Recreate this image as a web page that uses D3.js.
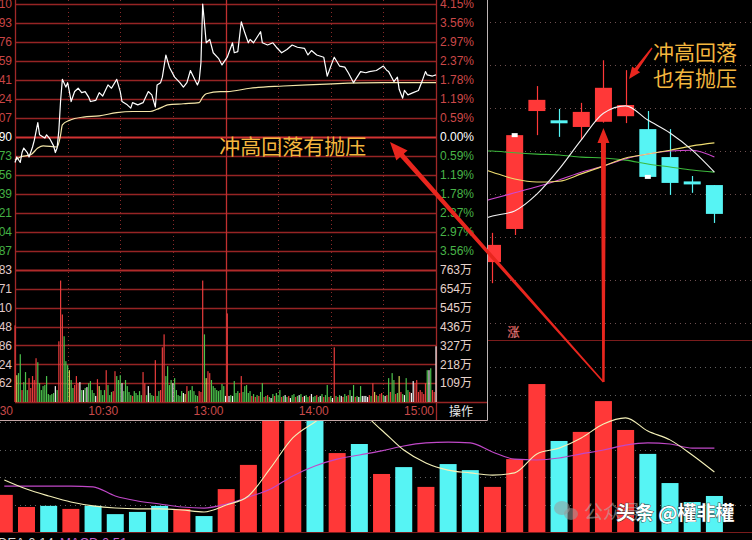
<!DOCTYPE html>
<html><head><meta charset="utf-8">
<script src="https://cdn.jsdelivr.net/npm/d3@7"></script>
<style>html,body{margin:0;padding:0;background:#000;overflow:hidden}svg{display:block}</style>
</head><body>
<script>
// ================= DATA =================
const prevClose = 28.90;
const priceMax = 30.10, priceMin = 27.70;
const priceAxisLabels = ["30.10","29.93","29.76","29.59","29.41","29.24","29.07","28.90","28.73","28.56","28.39","28.21","28.04","27.87"];
const pctAxisLabels = ["4.15%","3.56%","2.97%","2.37%","1.78%","1.19%","0.59%","0.00%","0.59%","1.19%","1.78%","2.37%","2.97%","3.56%"];
const volAxisValues = [763,654,545,436,327,218,109];
const volAxisLabels = ["763万","654万","545万","436万","327万","218万","109万"];
const volLotLabels = ["76283","65171","54310","43448","32586","21724","10862"];
const timeLabels = ["9:30","10:30","13:00","14:00","15:00"];
const timeLabelMinutes = [0,60,120,180,240];
const dottedMinutes = [30,60,90,150,180,210];
const solidMinutes = [0,120,240];

const priceMinutes = [0,1,3,4,5,7,8,10,11,13,14,16,17,18,20,22,23,24,25,26,27,29,30,31,32,34,36,38,40,42,43,46,48,50,53,55,58,60,61,64,66,67,70,73,76,78,80,81,83,84,86,88,91,94,96,98,100,103,104,105,106,107,108,109,111,113,116,118,121,124,125,127,129,131,133,134,136,138,140,141,144,147,149,152,155,158,161,165,167,169,172,176,178,181,182,185,188,190,193,197,200,202,206,210,212,213,216,218,219,221,222,224,227,230,232,234,235,238,240];
const priceValues = [28.67,28.72,28.67,28.76,28.80,28.76,28.72,28.81,28.87,29.03,28.92,28.90,28.89,28.92,28.88,28.82,28.76,28.80,28.96,29.23,29.42,29.35,29.39,29.31,29.22,29.31,29.34,29.30,29.31,29.26,29.22,29.23,29.30,29.27,29.37,29.34,29.42,29.31,29.22,29.19,29.16,29.21,29.19,29.21,29.31,29.28,29.17,29.37,29.39,29.44,29.64,29.53,29.44,29.39,29.35,29.39,29.50,29.40,29.37,29.41,29.57,30.10,29.93,29.75,29.78,29.66,29.61,29.55,29.62,29.75,29.66,29.67,29.94,29.84,29.75,29.78,29.75,29.80,29.85,29.75,29.73,29.75,29.71,29.66,29.69,29.73,29.71,29.70,29.64,29.68,29.64,29.62,29.45,29.58,29.62,29.54,29.53,29.48,29.39,29.49,29.48,29.49,29.50,29.54,29.50,29.49,29.40,29.44,29.33,29.25,29.32,29.28,29.30,29.32,29.40,29.49,29.46,29.45,29.46];
const avgMinutes = [0,3,9,13,16,24,26,27,31,39,48,58,67,77,81,84,87,96,105,107,109,117,121,134,153,181,210,240];
const avgValues = [28.69,28.72,28.74,28.80,28.82,28.81,28.92,29.01,29.05,29.08,29.09,29.12,29.13,29.13,29.15,29.17,29.19,29.20,29.21,29.26,29.29,29.31,29.31,29.34,29.36,29.38,29.39,29.39];

// per-minute volume (万), 241 minutes
const minuteVolume = [
443,155,167,276,69,115,173,69,138,81,150,127,253,230,109,69,92,98,150,46,
40,46,52,92,69,351,702,506,380,236,213,184,127,81,98,150,109,115,69,69,
81,86,109,121,69,52,35,132,92,69,40,69,184,98,40,58,63,178,150,127,
155,109,63,127,92,58,40,35,63,52,40,63,40,173,109,40,92,52,40,35,
242,35,63,69,316,391,150,207,98,127,109,138,69,40,35,63,52,46,92,63,
69,92,63,40,35,63,58,702,391,138,178,167,127,92,81,69,63,69,104,92,35,
512,35,40,35,121,52,63,52,150,58,92,98,52,63,
35,46,29,40,35,58,109,29,35,40,29,23,46,35,52,40,69,29,35,40,
29,35,23,40,46,29,35,40,46,29,35,40,29,35,46,29,35,40,29,35,
46,29,40,98,29,35,23,316,35,29,40,35,29,46,35,40,69,35,98,29,
35,29,92,35,35,35,29,40,35,109,58,40,35,46,52,40,35,40,138,58,
167,127,46,52,150,58,46,40,138,69,58,52,121,109,127,58,69,58,46,109,
184,184,195,69,58,322];
const minuteVolumeColor = ("ryggrgggrr"+"rrrggggggg"+"gggwgrrrgg"+"gyggrrrwgw"+"gwggggwryg"+"ggrgggrrgg"+"gwgggggrgg"+"gggrrgwggg"+"rggrrrgggg"+"wgggggwyrg"+"gggggrrrgy"+"rrgggggggg"+"w"+
 "rwgwgggrrggggg"+
 "rgrgrggrgr"+"gwgrgggrgw"+"grwggrgwgr"+"wggrwggrgw"+"grggrgwrgr"+"gwrggrgwgr"+"gwgwwwwrgr"+"yrgrrgwrgr"+"ggrgyrgwgg"+"rwwrrrrrrr"+"gwgrrw").split("");

// daily chart (33 days visible in the lower panel)
const dayVolume = [13.5,9.1,9.5,8.4,9.5,6.5,7.3,9.5,8.4,5.8,15.6,24.4,62,60,48,28.7,32.0,21.1,23.6,16.4,24.7,22.5,16.4,26.5,53.8,33.1,36.4,47.6,37.1,28.4,17.8,10.9,13.1];
const dayUp = [1,1,0,1,0,0,0,0,1,0,1,1,1,1,0,1,0,1,0,1,0,0,1,1,1,0,1,1,1,0,0,0,0];
const dayVolMA5 = [18.9,15.6,13.1,10.9,9.5,8.7,8.4,8.4,8.0,7.3,9.8,13.1,23.3,34.2,40.0,45.1,43.6,37.1,29.8,25.1,22.5,21.5,20.7,21.5,28.4,30.5,34.2,39.3,41.5,36.7,33.5,28.0,21.8];
const dayVolMA10 = [16.7,16.7,16.7,16.7,16.4,13.1,11.3,10.2,9.1,8.7,10.2,12.7,15.6,20.4,24.0,26.5,28.0,29.5,31.3,32.4,32.7,32.4,29.1,26.5,26.2,26.9,28.4,29.8,31.6,32.4,32.0,30.5,30.5];

const candleFirstDay = 22;
const candleOpen  = [25.41,26.18,28.92,28.68,28.55,28.67,28.80,28.50,27.85,27.26,27.20];
const candleHigh  = [26.09,28.36,29.50,28.97,29.11,30.10,29.87,28.92,28.50,27.41,27.20];
const candleLow   = [24.92,26.04,28.36,28.32,28.25,28.65,28.64,27.39,26.97,27.02,26.32];
const candleClose = [25.81,28.36,29.18,28.66,28.90,29.46,29.06,27.39,27.25,27.24,26.53];
const markerDays = [23,29];
const markerPrices = [28.36,27.39];

const maFirstDay = 21;
const ma5  = [26.30,26.48,26.60,26.99,27.57,28.25,28.87,29.04,28.71,28.41,28.01,27.50];
const ma10 = [27.67,27.50,27.34,27.27,27.29,27.46,27.64,27.83,27.92,28.01,28.11,28.18];
const ma20 = [26.74,26.88,27.02,27.16,27.32,27.50,27.64,27.81,27.92,27.99,28.01,27.85];
const ma60 = [28.01,27.99,27.95,27.92,27.90,27.85,27.83,27.78,27.69,27.62,27.55,27.50];
const kGridPrices = [24,25,26,27,28,29,30,31];
const dayVolGrid = [10,20,30,40,50,60];
const arrowDay = 27;

// ================= DRAW =================
const W = 752, H = 540;
const NUM = "'Liberation Sans', Arial, sans-serif";
const CJK = "'Noto Sans CJK SC', 'Noto Sans', sans-serif";
const svg = d3.select("body").append("svg").attr("width", W).attr("height", H);
svg.append("rect").attr("width", W).attr("height", H).attr("fill", "#000");

const dayX = d3.scaleLinear().domain([0, 32]).range([4.3, 714.4]);
const kY = d3.scaleLinear().domain([23.6, 31.5]).range([340, 0]);
const dvY = d3.scaleLinear().domain([0, 60]).range([532, 367]);
const barW = 17;
const RED = "#ff3838", CYAN = "#56f4f4";

// K gridlines (dotted)
svg.append("g").selectAll("line").data(kGridPrices).join("line")
  .attr("x1", 0).attr("x2", W)
  .attr("y1", d => Math.round(kY(d)) + 0.5).attr("y2", d => Math.round(kY(d)) + 0.5)
  .attr("stroke", "#6e5050").attr("stroke-dasharray", "1,4");
svg.append("g").selectAll("line").data(dayVolGrid).join("line")
  .attr("x1", 0).attr("x2", W)
  .attr("y1", d => Math.round(dvY(d)) + 0.5).attr("y2", d => Math.round(dvY(d)) + 0.5)
  .attr("stroke", "#606060").attr("stroke-dasharray", "1,4");
svg.append("line").attr("x1", 0).attr("x2", W).attr("y1", 340.5).attr("y2", 340.5).attr("stroke", "#7a1c1c");
svg.append("line").attr("x1", 0).attr("x2", W).attr("y1", 532.5).attr("y2", 532.5).attr("stroke", "#7a1c1c");

// lower panel bars
svg.append("g").selectAll("rect").data(dayVolume).join("rect")
  .attr("x", (d, i) => dayX(i) - barW / 2).attr("y", d => dvY(d))
  .attr("width", barW).attr("height", d => dvY(0) - dvY(d))
  .attr("fill", (d, i) => dayUp[i] ? RED : CYAN);
const dvLine = d3.line().x((d, i) => dayX(i)).y(d => dvY(d)).curve(d3.curveMonotoneX);
svg.append("path").datum(dayVolMA10).attr("d", dvLine).attr("fill", "none").attr("stroke", "#c048c8").attr("stroke-width", 1.1);
svg.append("path").datum(dayVolMA5).attr("d", dvLine).attr("fill", "none").attr("stroke", "#f4f0b8").attr("stroke-width", 1.1);

// candles
const cg = svg.append("g");
candleOpen.forEach((o, k) => {
  const day = candleFirstDay + k, c = candleClose[k];
  const up = c >= o && !(day === 25);
  const col = (c > o) ? RED : (c < o ? CYAN : RED);
  const cx = Math.round(dayX(day)) + 0.5;
  cg.append("line").attr("x1", cx).attr("x2", cx).attr("y1", kY(candleHigh[k])).attr("y2", kY(candleLow[k])).attr("stroke", col).attr("stroke-width", 1.2);
  const top = kY(Math.max(o, c)), bot = kY(Math.min(o, c));
  const h = Math.max(3, bot - top);
  cg.append("rect").attr("x", dayX(day) - barW / 2).attr("y", (top + bot) / 2 - h / 2).attr("width", barW).attr("height", h).attr("fill", col);
});
markerDays.forEach((d, i) => {
  cg.append("rect").attr("x", dayX(d) - 3).attr("y", kY(markerPrices[i]) - 2).attr("width", 6).attr("height", 4).attr("fill", "#fff");
});
const maLine = d3.line().x((d, i) => dayX(maFirstDay + i)).y(d => kY(d)).curve(d3.curveMonotoneX);
[[ma60, "#3cb83c"], [ma20, "#d048d0"], [ma10, "#eedc70"], [ma5, "#f4f4f4"]].forEach(([arr, col]) => {
  svg.append("path").datum(arr).attr("d", maLine).attr("fill", "none").attr("stroke", col).attr("stroke-width", 1.1);
});

// "涨" marker
svg.append("text").attr("x", 513.5).attr("y", 336.5).attr("text-anchor", "middle")
  .attr("font-family", CJK).attr("font-size", 12).attr("fill", "#f3d0d0").attr("stroke", "#b02020").attr("stroke-width", 0.4).text("涨");

// ============== INTRADAY PANEL ==============
const P = svg.append("g");
P.append("rect").attr("x", 0).attr("y", 0).attr("width", 487).attr("height", 420).attr("fill", "#000");
const xT = d3.scaleLinear().domain([0, 240]).range([15, 436]);
const pY = d3.scaleLinear().domain([priceMin, priceMax]).range([270, 4]);
const vY = d3.scaleLinear().domain([0, 763]).range([402, 270]);
const gridPrices = d3.range(14).map(k => priceMax - k * (priceMax - priceMin) / 14);

// horizontal grid
P.append("g").selectAll("line").data(gridPrices).join("line")
  .attr("x1", 15).attr("x2", 436)
  .attr("y1", d => Math.round(pY(d)) + 0.5).attr("y2", d => Math.round(pY(d)) + 0.5)
  .attr("stroke", (d, i) => i === 7 ? "#d23232" : "#962424")
  .attr("stroke-width", (d, i) => i === 7 ? 2.2 : 1.3);
P.append("g").selectAll("line").data(volAxisValues.concat([0])).join("line")
  .attr("x1", 15).attr("x2", d => d === 0 ? 487 : 436)
  .attr("y1", d => Math.round(vY(d)) + 0.5).attr("y2", d => Math.round(vY(d)) + 0.5)
  .attr("stroke", (d, i) => i === 0 ? "#b02a2a" : "#962424")
  .attr("stroke-width", (d, i) => i === 0 ? 2.2 : 1.3);
// vertical grid
P.append("g").selectAll("line").data(dottedMinutes).join("line")
  .attr("x1", d => Math.round(xT(d)) + 0.5).attr("x2", d => Math.round(xT(d)) + 0.5)
  .attr("y1", 0).attr("y2", 402).attr("stroke", "#8a2a2a").attr("stroke-dasharray", "1,3");
P.append("g").selectAll("line").data(solidMinutes).join("line")
  .attr("x1", d => Math.round(xT(d)) + 0.5).attr("x2", d => Math.round(xT(d)) + 0.5)
  .attr("y1", 0).attr("y2", (d, i) => i === 2 ? 420 : 402).attr("stroke", (d, i) => i === 1 ? "#c03030" : "#a02828").attr("stroke-width", 1.3);

// minute volume bars
const volCol = { r: "#e83c3c", g: "#4cc24c", w: "#f2f2f2", y: "#cfcf55" };
P.append("g").selectAll("rect").data(minuteVolume).join("rect")
  .attr("x", (d, i) => xT(i) - 0.6).attr("width", 1.2)
  .attr("y", d => vY(d)).attr("height", d => vY(0) - vY(d))
  .attr("fill", (d, i) => volCol[minuteVolumeColor[i]]);

// price & average lines
const avgLine = d3.line().x((d, i) => xT(avgMinutes[i])).y(d => pY(d)).curve(d3.curveMonotoneX);
P.append("path").datum(avgValues).attr("d", avgLine).attr("fill", "none").attr("stroke", "#f4e6a8").attr("stroke-width", 1.2);
const prLine = d3.line().x((d, i) => xT(priceMinutes[i])).y(d => pY(d));
P.append("path").datum(priceValues).attr("d", prLine).attr("fill", "none").attr("stroke", "#ffffff").attr("stroke-width", 1.2).attr("stroke-linejoin", "round");

// left price labels
P.append("g").selectAll("text").data(priceAxisLabels).join("text")
  .attr("x", 12).attr("y", (d, i) => pY(gridPrices[i]) + 4.3).attr("text-anchor", "end")
  .attr("font-family", NUM).attr("font-size", 12)
  .attr("fill", (d, i) => i < 7 ? "#c84444" : (i === 7 ? "#ffffff" : "#44b044")).text(d => d);
P.append("g").selectAll("text").data(volLotLabels).join("text")
  .attr("x", 12).attr("y", (d, i) => vY(volAxisValues[i]) + 4.3).attr("text-anchor", "end")
  .attr("font-family", NUM).attr("font-size", 12).attr("fill", "#e0c8c8").text(d => d);
// right labels
P.append("g").selectAll("text").data(pctAxisLabels).join("text")
  .attr("x", 440).attr("y", (d, i) => pY(gridPrices[i]) + 4.3)
  .attr("font-family", NUM).attr("font-size", 12)
  .attr("fill", (d, i) => i < 7 ? "#cc4848" : (i === 7 ? "#ffffff" : "#48b448")).text(d => d);
P.append("g").selectAll("text").data(volAxisLabels).join("text")
  .attr("x", 440).attr("y", (d, i) => vY(volAxisValues[i]) + 4.3)
  .attr("font-family", NUM + "," + CJK).attr("font-size", 12).attr("fill", "#e6d2ca").text(d => d);
// time labels
P.append("g").selectAll("text").data(timeLabels).join("text")
  .attr("x", (d, i) => xT(timeLabelMinutes[i]) - 2).attr("y", 415).attr("text-anchor", "end")
  .attr("font-family", NUM).attr("font-size", 12).attr("fill", "#c84a4a").text(d => d);
P.append("text").attr("x", 461).attr("y", 416).attr("text-anchor", "middle")
  .attr("font-family", CJK).attr("font-size", 12).attr("fill", "#e8e8e8").text("操作");
// panel border
P.append("line").attr("x1", 487.5).attr("x2", 487.5).attr("y1", 0).attr("y2", 420.5).attr("stroke", "#bdb5b5");
P.append("line").attr("x1", 0).attr("x2", 487.5).attr("y1", 420.5).attr("y2", 420.5).attr("stroke", "#c8a8a8");

// ============== ANNOTATIONS ==============
const RA = "#e8261e";
function arrow(tail, tip, wT, wH, hl, hw) {
  const dx = tip[0] - tail[0], dy = tip[1] - tail[1], L = Math.hypot(dx, dy);
  const ux = dx / L, uy = dy / L, nx = -uy, ny = ux;
  const bx = tip[0] - ux * hl, by = tip[1] - uy * hl;
  const pts = [[tail[0] + nx * wT / 2, tail[1] + ny * wT / 2], [bx + nx * wH / 2, by + ny * wH / 2], [bx + nx * hw / 2, by + ny * hw / 2], tip,
    [bx - nx * hw / 2, by - ny * hw / 2], [bx - nx * wH / 2, by - ny * wH / 2], [tail[0] - nx * wT / 2, tail[1] - ny * wT / 2]];
  svg.append("path").attr("d", "M" + pts.map(p => p.join(",")).join("L") + "Z").attr("fill", RA);
}
const ax = dayX(arrowDay);
arrow([ax, 382], [390, 142], 1.6, 5, 18, 15);
arrow([ax, 382], [ax, 128], 2.4, 5, 15, 12);
arrow([652, 48], [629, 79], 1.4, 3.5, 12, 10);

const GOLD = "#f4b63e";
svg.append("text").attr("x", xT(116.5)).attr("y", 153.5).attr("font-family", CJK).attr("font-size", 21)
  .attr("fill", GOLD).text("冲高回落有抛压");
svg.append("text").attr("x", 653).attr("y", 59.5).attr("font-family", CJK).attr("font-size", 21).attr("fill", GOLD).text("冲高回落");
svg.append("text").attr("x", 653).attr("y", 85.5).attr("font-family", CJK).attr("font-size", 21).attr("fill", GOLD).text("也有抛压");

// watermark
const wm = svg.append("g");
wm.append("ellipse").attr("cx", 562).attr("cy", 508).attr("rx", 8).attr("ry", 7).attr("fill", "#9a9a9a").attr("opacity", 0.55);
wm.append("ellipse").attr("cx", 571).attr("cy", 514).attr("rx", 7).attr("ry", 6).attr("fill", "#9a9a9a").attr("opacity", 0.55);
wm.append("text").attr("x", 584).attr("y", 519).attr("font-family", CJK).attr("font-size", 19).attr("fill", "#b0b0b0").attr("opacity", 0.55).text("公众号");
wm.append("text").attr("x", 616).attr("y", 520).attr("font-family", CJK).attr("font-size", 19).attr("font-weight", "bold")
  .attr("fill", "#ffffff").attr("stroke", "#303030").attr("stroke-width", 0.8).attr("paint-order", "stroke").text("头条 @權非權");

// bottom indicator text (cut)
svg.append("text").attr("x", -2).attr("y", 547).attr("font-family", NUM).attr("font-size", 13).attr("fill", "#d8d8d8").text("DEA:0.14");
svg.append("text").attr("x", 60).attr("y", 547).attr("font-family", NUM).attr("font-size", 13).attr("fill", "#c060c8").text("MACD:0.51");
</script>
</body></html>
